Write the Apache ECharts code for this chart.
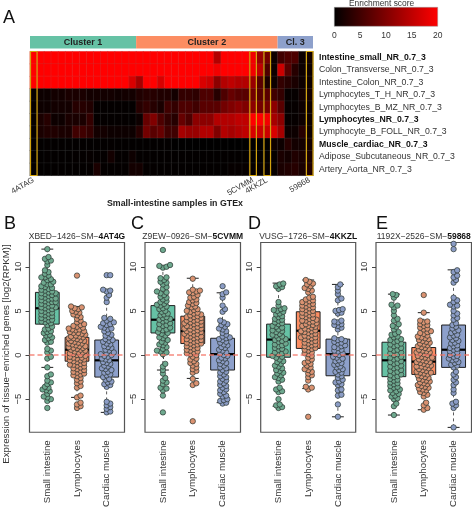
<!DOCTYPE html>
<html><head><meta charset="utf-8">
<style>html,body{margin:0;padding:0;background:#fff}#c{width:472px;height:510px}</style>
<script src="https://cdn.jsdelivr.net/npm/echarts@6/dist/echarts.min.js"></script>
</head><body><div id="c"></div>
<script>
const FONT='"Liberation Sans",Arial,sans-serif';
const rowNames=['Intestine_small_NR_0.7_3','Colon_Transverse_NR_0.7_3','Intestine_Colon_NR_0.7_3','Lymphocytes_T_H_NR_0.7_3','Lymphocytes_B_MZ_NR_0.7_3','Lymphocytes_NR_0.7_3','Lymphocyte_B_FOLL_NR_0.7_3','Muscle_cardiac_NR_0.7_3','Adipose_Subcutaneous_NR_0.7_3','Artery_Aorta_NR_0.7_3'];
const boldRows=['Intestine_small_NR_0.7_3','Lymphocytes_NR_0.7_3','Muscle_cardiac_NR_0.7_3'];
const sampleLabels={0:'4ATAG',31:'5CVMM',33:'4KKZL',39:'59868'};
const highlighted=[0,31,33,39];
const clusters=[['Cluster 1',0,15],['Cluster 2',15,35],['Cl. 3',35,40]];
const clusterColors=['#66c2a5','#fc8d62','#8da0cb'];
const r0=[20,20,20,20,20,20,20,20,20,20,20,20,20,20,20,20,20,20,20,20,20,20,20,20,20,20,14,20,20,20,20,19,12,9,1,5,6,6,1,1.5];
const r1=[20,20,20,20,20,20,20,20,20,20,20,20,20,20,20,20,20,20,20,20,20,20,20,20,20,20,19,20,20,20,20,19,15,6,1,16,7,3,1,1];
const r2=[20,20,20,20,20,20,20,20,20,20,20,20,20,20,17,13,20,20,17,20,20,20,20,20,17,16,11,14,15,14,14,12,7,2,1,4,3,2,1,1];
const r3=[0.5,1,1,1.5,1.5,2,2,2,1.5,1.5,1.5,1.5,1.2,1.5,1.5,2.5,3,3,2.5,2.5,1.5,4,4,3.5,6,6,3,6,8,7,7,9,7,7,5,4,0.5,0.5,1.5,1.5];
const r4=[0.5,1,1,1.5,1.5,1.5,3,3,2.5,0.3,0.3,0.3,0.3,0.3,0.3,3,4,3,2,5,4,6,6,5,7,7,7,9,10,11,10,11,9,9,11,7,0.5,0.5,1,1];
const r5=[0.5,2,3,1,1,2,2,2,4,0.3,0.3,0.3,0.3,0.3,0.3,1,8,10,6,4,3,8,6,11,11,11,14,14,14,15,15,20,20,19,13,11,0.5,0.5,1,1];
const r6=[0.5,2,2.5,2.5,2,2,5,5,4,1.5,1.5,1,1,1,1,3,9,7,8,5,5,13,12,12,14,14,10,14,13,14,15,17,16,16,17,13,1,1,3,1];
const r7=[0.2,0.2,0.3,0.2,0.2,0.2,0.2,0.2,0.2,0.2,0.2,0.3,0.2,0.2,0.2,0.2,0.2,0.2,0.2,0.2,0.1,0.1,0.1,0.1,0.1,0.1,0.1,0.1,0,0,0,0,0,0,1,1,3,1.5,1.5,1.5];
const r8=[0.2,0.2,0.3,0.2,0.2,0.2,0.3,0.3,0.5,0.3,0.3,1.5,0.3,0.3,1,0.3,0.3,0.2,0.2,0.2,0.2,0.2,0.2,0.2,0.2,0.2,0.2,0.2,0.2,0.2,0.2,0.2,0.2,0.2,0.5,2,1.5,2.5,2,2];
const r9=[0.2,0.2,0.2,0.2,0.2,0.2,0.2,0.2,0.3,2,0.3,0.3,0.3,0.3,1.5,1.5,0.3,0.3,0.2,0.2,0.2,0.2,0.2,0.2,0.2,0.2,0.2,0.2,0.5,0.5,0.5,0.5,0.5,0.5,0.5,2,2.5,3,2,2.5];
const heatRows=[r0,r1,r2,r3,r4,r5,r6,r7,r8,r9];
const heatColors=['#000000','#ff0000'];
const scoreRange=[0,20];

const tissues=['Small intestine','Lymphocytes','Cardiac muscle'];
const tissueFill=['#66c2a5','#fc8d62','#8da0cb'];
const pointFill=['#6ea98f','#da9271','#8b9cc5'];
const panelIds=[['XBED\u22121426\u2212SM\u2212','4AT4G'],['Z9EW\u22120926\u2212SM\u2212','5CVMM'],['VUSG\u22121726\u2212SM\u2212','4KKZL'],['1192X\u22122526\u2212SM\u2212','59868']];
const yTicks=[-5,0,5,10];

// low, q1, median, q3, high
const boxB=[[-1.4,3.5,5.3,7.1,12],[-4.8,-0.7,0.6,2,5.5],[-6.5,-2.5,-0.6,1.7,7.4]];
const boxC=[[-1.7,2.5,4,5.6,10.1],[-2.65,1.3,2.7,4.4,8.7],[-5.4,-1.7,0.1,1.9,7.05]];
const boxD=[[-5.8,-0.25,1.75,3.5,8.15],[-3.8,0.75,2.75,4.9,8.5],[-7,-2.35,0.1,1.8,8]];
const boxE=[[-6.8,-2.45,-0.6,1.45,6.9],[-6.2,-2.2,-0.75,0.85,4.8],[-8.2,-1.4,0.6,3.4,9.65]];

const greenB=[12,11.1,10.9,10.7,10.6,10.2,9.6,9.4,9.2,9,8.8,8.8,8.6,8.5,8.3,8.2,8,8,7.8,7.7,7.6,7.5,7.4,7.3,7.2,7.1,7,7,6.9,6.8,6.7,6.6,6.5,6.4,6.4,6.3,6.2,6.1,6,6,5.9,5.8,5.7,5.6,5.5,5.4,5.4,5.3,5.2,5.1,5,4.9,4.8,4.7,4.6,4.5,4.4,4.3,4.2,4.1,4,3.9,3.8,3.7,3.6,3.4,3.2,3,2.9,2.7,2.6,2.5,2.3,2.2,2,1.9,1.7,1.5,1.4,0.7,0.5,0.3,-0.2,-0.4,-1.4,-2.2,-2.4,-2.9,-3.1,-3.3,-3.6,-3.7,-3.9,-4,-4.1,-4.4,-4.7,-4.8,-5,-5.2,-6];
const orangeB=[9,5.5,5.4,5.3,5.2,5,4.9,4.8,4.6,4.5,4.3,4.1,3.9,3.7,3.5,3.4,3.3,3.2,3.1,3,2.9,2.9,2.8,2.7,2.6,2.5,2.5,2.4,2.3,2.2,2.1,2.1,2,1.9,1.9,1.8,1.7,1.6,1.6,1.5,1.4,1.3,1.3,1.2,1.1,1,1,0.9,0.8,0.8,0.7,0.6,0.6,0.5,0.4,0.3,0.3,0.2,0.1,0,0,-0.1,-0.2,-0.3,-0.3,-0.4,-0.5,-0.6,-0.6,-0.7,-0.8,-0.9,-1,-1.1,-1.1,-1.2,-1.3,-1.4,-1.5,-1.6,-1.7,-1.8,-1.9,-2,-2.1,-2.2,-2.3,-2.4,-2.6,-2.8,-3,-3.2,-3.5,-3.7,-4.6,-4.8,-5.4,-5.6,-5.8,-6];
const blueB=[9.05,9.05,7.4,7.3,7.2,6.8,6.5,6,4.2,4.1,3.9,3.7,3.6,3.5,3.4,3.2,3.1,3,2.9,2.7,2.5,2.3,2.2,2,1.8,1.7,1.6,1.5,1.3,1.2,1,0.9,0.8,0.6,0.5,0.3,0.2,0.1,0,-0.1,-0.2,-0.4,-0.5,-0.6,-0.8,-0.9,-1,-1.2,-1.3,-1.5,-1.6,-1.7,-1.9,-2,-2.2,-2.3,-2.5,-2.7,-2.8,-3,-3.1,-3.3,-3.4,-3.6,-5.3,-5.5,-5.7,-5.9,-6.1,-6.4,-6.5];

const greenC=[11.9,10.2,10.1,10,9.9,8.8,8.7,8.5,8.3,8.2,8,7.7,7.5,7.2,7.1,7,6.8,6.6,6.5,6.3,6.1,6,5.8,5.7,5.6,5.5,5.3,5.2,5,4.9,4.7,4.6,4.5,4.3,4.2,4.1,4,3.9,3.8,3.6,3.5,3.4,3.3,3.1,3,2.9,2.8,2.6,2.5,2.4,2.2,2,1.9,1.7,1.5,1.4,1.2,1.1,0.9,0.7,0.5,0.4,0.3,0.1,-1,-1.3,-1.7,-2.1,-2.6,-2.9,-3.1,-3.3,-3.7,-3.8,-4,-4.6,-6.5];
const orangeC=[8.65,7.4,7.3,7.2,7.1,7,6.8,6.6,6.5,6.3,6.2,6,5.9,5.8,5.6,5.5,5.4,5.2,5.1,5,4.9,4.8,4.7,4.6,4.5,4.4,4.3,4.3,4.2,4.1,4,3.9,3.9,3.8,3.7,3.6,3.6,3.5,3.4,3.3,3.3,3.2,3.1,3,3,2.9,2.8,2.7,2.7,2.6,2.5,2.4,2.4,2.3,2.2,2.1,2.1,2,1.9,1.8,1.7,1.7,1.6,1.5,1.4,1.3,1.3,1.2,1.1,1,0.9,0.8,0.7,0.6,0.5,0.4,0.3,0.2,0.1,0,-0.2,-0.4,-0.5,-0.7,-0.9,-1,-1.2,-1.4,-1.6,-1.8,-2,-2.7,-3.2,-3.4,-7.5];
const blueC=[7.8,7.1,6.9,6.5,5.6,5.2,4.9,3.9,3.7,3.5,3.4,3.2,3,2.9,2.7,2.5,2.3,2.1,2,1.9,1.8,1.7,1.5,1.4,1.2,1.1,0.9,0.8,0.6,0.5,0.3,0.2,0,-0.1,-0.3,-0.4,-0.6,-0.7,-0.9,-1,-1.2,-1.4,-1.5,-1.7,-1.9,-2,-2.2,-2.4,-2.5,-2.7,-2.9,-3,-3.2,-3.4,-3.5,-3.7,-3.9,-4,-4.2,-4.4,-4.6,-4.7,-5,-5.1,-5.2,-5.4,-5.5];

const greenD=[8.1,8,7.8,7.7,7.5,6,5.6,5.3,5.2,5.1,5,4.9,4.7,4.6,4.4,4.3,4.1,4,3.9,3.7,3.6,3.5,3.3,3.2,3.1,2.9,2.8,2.7,2.6,2.4,2.3,2.2,2.1,1.9,1.8,1.7,1.6,1.5,1.3,1.2,1.1,1,0.8,0.7,0.6,0.4,0.3,0.2,0.1,-0.1,-0.2,-0.3,-0.5,-0.7,-0.8,-1,-1.2,-1.3,-1.5,-1.7,-1.8,-2,-2.1,-2.3,-2.5,-2.6,-2.8,-3,-3.7,-3.9,-4.1,-4.2,-5,-5.6,-5.7,-5.9,-6];
const orangeD=[8.5,8.3,8.1,8,7.8,7.6,7.5,7.3,7.1,6.6,6.5,6.3,6.2,6.1,6,5.9,5.8,5.7,5.6,5.5,5.4,5.3,5.2,5.1,5,4.9,4.8,4.7,4.6,4.5,4.4,4.3,4.2,4.1,4,3.9,3.9,3.8,3.7,3.6,3.5,3.4,3.3,3.3,3.2,3.1,3,2.9,2.8,2.7,2.7,2.6,2.5,2.4,2.3,2.2,2.1,2,2,1.9,1.8,1.7,1.6,1.5,1.4,1.3,1.2,1.1,1,0.9,0.8,0.7,0.6,0.5,0.3,0.2,0.1,-0.1,-0.3,-0.5,-0.7,-0.9,-1,-1.2,-1.4,-1.6,-1.7,-1.9,-2.1,-2.3,-2.5,-2.9,-3.6,-3.7,-3.9,-7];
const blueD=[8,7.7,7.3,6.9,6.4,6.2,5.2,5.1,5,4.8,4.7,3.9,3.8,3.7,3.5,3.4,3.3,3.1,2.9,1.9,1.8,1.7,1.6,1.5,1.4,1.3,1.1,1,0.9,0.8,0.6,0.5,0.4,0.2,0.1,0,-0.2,-0.3,-0.4,-0.6,-0.7,-0.9,-1,-1.1,-1.3,-1.4,-1.6,-1.7,-1.9,-2,-2.2,-2.4,-2.6,-2.8,-3,-3.1,-3.3,-3.4,-3.9,-4,-4.5,-4.6,-5.6,-7];

const greenE=[6.9,6.8,6.5,5.7,5.6,5.4,5,4.5,4.1,3.9,3.5,3.3,3.2,2.9,2.6,2.4,2.3,2.1,2,1.8,1.7,1.6,1.5,1.3,1.2,1.1,1,0.8,0.7,0.6,0.5,0.3,0.2,0.1,0,-0.2,-0.3,-0.4,-0.5,-0.7,-0.8,-0.9,-1,-1.2,-1.3,-1.4,-1.5,-1.7,-1.8,-1.9,-2,-2.2,-2.3,-2.4,-2.5,-2.7,-2.8,-2.9,-3.1,-3.2,-3.3,-3.5,-3.6,-3.7,-3.9,-4,-4.1,-4.3,-4.4,-4.6,-4.7,-4.9,-5,-5.5,-5.8,-6.8];
const orangeE=[6.8,4.8,3.9,3.8,3.7,3.5,3.4,3.3,3.1,3,2.9,2.7,2.6,2.5,2.4,2.2,2.1,2,1.9,1.8,1.7,1.6,1.5,1.4,1.3,1.2,1.1,1,0.9,0.8,0.7,0.6,0.5,0.4,0.3,0.3,0.2,0.1,0,-0.1,-0.2,-0.3,-0.3,-0.4,-0.5,-0.6,-0.7,-0.8,-0.8,-0.9,-1,-1.1,-1.2,-1.3,-1.3,-1.4,-1.5,-1.6,-1.7,-1.8,-1.9,-2,-2,-2.1,-2.2,-2.3,-2.4,-2.5,-2.6,-2.7,-2.8,-2.9,-3,-3.1,-3.2,-3.3,-3.4,-3.5,-3.6,-3.7,-3.8,-3.9,-4,-4.2,-4.3,-4.5,-4.7,-5.4,-5.7,-6,-6.2];
const blueE=[12.6,12,9.6,9.4,9,8.8,8.5,8.2,6.5,6.2,6,5.7,5.6,5.5,5,4.7,4.5,4.2,4,3.6,3.4,3.2,3,2.8,2.7,2.5,2.3,2.2,2,1.9,1.7,1.6,1.4,1.3,1.1,1,0.8,0.7,0.6,0.4,0.3,0.2,0,-0.1,-0.2,-0.4,-0.5,-0.6,-0.8,-0.9,-1.1,-1.2,-1.4,-1.9,-2.2,-2.5,-2.8,-3.1,-3.4,-3.9,-4.3,-5.3,-5.5,-5.7,-6,-8.2];

const panelBoxes=[boxB,boxC,boxD,boxE];
const panelPoints=[[greenB,orangeB,blueB],[greenC,orangeC,blueC],[greenD,orangeD,blueD],[greenE,orangeE,blueE]];
const panelRects=[[29.5,95],[145,95.5],[260.7,95],[376,95.5]];

// deterministic swarm: each value takes the nearest free slot beside the category centre
function swarm(values,center){
  const steps=[0];
  for(let s=1;s<=7;s++){steps.push(s*0.04,-s*0.04);}
  const placed=[];
  values.slice().sort((a,b)=>a-b).forEach(v=>{
    let best=null,bestD=-1;
    for(const o of steps){
      let d=Infinity;
      for(const p of placed){
        if(Math.abs(p[1]-v)>1.5)continue;
        d=Math.min(d,Math.hypot((p[0]-o)*29.6,(p[1]-v)*9.1));
      }
      if(d>=3.3){best=o;bestD=d;break;}
      if(d>bestD){bestD=d;best=o;}
    }
    placed.push([best,v]);
  });
  return placed.map(p=>[center+p[0],p[1]]);
}

function boxRender(params,api){
  const x=api.value(0),c=api.coord;
  const low=c([x,api.value(1)]),q1=c([x,api.value(2)]),med=c([x,api.value(3)]),q3=c([x,api.value(4)]),high=c([x,api.value(5)]);
  const hw=c([x+0.4,0])[0]-low[0], cap=hw/2;
  const ink={stroke:'#1f1f1f',lineWidth:1,fill:null};
  const dash={stroke:'#333',lineWidth:0.8,lineDash:[3,3]};
  return {type:'group',children:[
    {type:'line',shape:{x1:low[0],y1:low[1],x2:q1[0],y2:q1[1]},style:dash},
    {type:'line',shape:{x1:high[0],y1:high[1],x2:q3[0],y2:q3[1]},style:dash},
    {type:'line',shape:{x1:low[0]-cap,y1:low[1],x2:low[0]+cap,y2:low[1]},style:ink},
    {type:'line',shape:{x1:high[0]-cap,y1:high[1],x2:high[0]+cap,y2:high[1]},style:ink},
    {type:'rect',shape:{x:q3[0]-hw,y:q3[1],width:2*hw,height:q1[1]-q3[1]},style:{fill:tissueFill[x-1],stroke:'#1f1f1f',lineWidth:1}},
    {type:'line',shape:{x1:med[0]-hw,y1:med[1],x2:med[0]+hw,y2:med[1]},style:{stroke:'#000',lineWidth:2.2}}
  ]};
}

const grid=[
 {left:30,top:51.5,width:283,height:124,show:false},
 {left:30,top:36,width:283,height:12.5,show:false},
 {left:334.3,top:7.3,width:103.4,height:19,show:false}
];
const xAxis=[
 {gridIndex:0,type:'category',data:heatRows[0].map((_,i)=>sampleLabels[i]||''),axisLine:{lineStyle:{color:'#bbb'}},axisTick:{show:false},
  axisLabel:{interval:0,rotate:30,fontSize:8,color:'#333',fontFamily:FONT,margin:4}},
 {gridIndex:1,type:'value',min:0,max:40,show:false},
 {gridIndex:2,type:'value',min:0,max:20,interval:5,position:'bottom',splitLine:{show:false},axisLine:{show:false},axisTick:{show:false},
  axisLabel:{fontSize:8.5,color:'#333',fontFamily:FONT,margin:5,hideOverlap:false}}
];
const yAxis=[
 {gridIndex:0,type:'category',inverse:true,position:'right',data:rowNames,axisLine:{show:false},axisTick:{show:false},
  axisLabel:{interval:0,margin:6,fontFamily:FONT,fontSize:8.7,
   formatter:v=>boldRows.includes(v)?'{b|'+v+'}':'{n|'+v+'}',
   rich:{b:{fontWeight:'bold',color:'#111',fontSize:8.7,fontFamily:FONT},n:{color:'#333',fontSize:8.7,fontFamily:FONT}}}},
 {gridIndex:1,type:'value',min:0,max:1,show:false},
 {gridIndex:2,type:'value',min:0,max:1,show:false}
];
const heatData=[];
heatRows.forEach((row,r)=>row.forEach((v,c)=>heatData.push([c,r,v])));
const series=[
 {type:'heatmap',xAxisIndex:0,yAxisIndex:0,data:heatData,progressive:0,animation:false,
  itemStyle:{borderColor:'rgba(130,130,130,0.22)',borderWidth:0.6},emphasis:{disabled:true}},
 {type:'custom',xAxisIndex:0,yAxisIndex:0,data:highlighted.map(c=>[c]),z:5,clip:false,silent:true,
  renderItem(p,api){
    const pt=api.coord([api.value(0),0]),bw=api.size([1,1]);
    const top=pt[1]-bw[1]/2;
    return {type:'rect',shape:{x:pt[0]-bw[0]/2+0.5,y:top,width:bw[0]-0.5,height:bw[1]*10},style:{fill:null,stroke:'#d3a40e',lineWidth:1.2}};
  }},
 {type:'custom',xAxisIndex:1,yAxisIndex:1,data:clusters.map((c,i)=>[c[1],c[2],i]),silent:true,
  renderItem(p,api){
    const a=api.coord([api.value(0),1]),b=api.coord([api.value(1),0]),i=api.value(2);
    return {type:'group',children:[
     {type:'rect',shape:{x:a[0],y:a[1],width:b[0]-a[0],height:b[1]-a[1]},style:{fill:clusterColors[i]}},
     {type:'text',style:{x:(a[0]+b[0])/2,y:(a[1]+b[1])/2,text:clusters[i][0],align:'center',verticalAlign:'middle',fontSize:9,fontWeight:'bold',fontFamily:FONT,fill:'#222'}}
    ]};
  }},
 {type:'custom',xAxisIndex:2,yAxisIndex:2,data:[scoreRange],silent:true,
  renderItem(p,api){
    const a=api.coord([api.value(0),1]),b=api.coord([api.value(1),0]);
    return {type:'rect',shape:{x:a[0],y:a[1],width:b[0]-a[0],height:b[1]-a[1]},
      style:{stroke:'#999',lineWidth:0.5,fill:new echarts.graphic.LinearGradient(0,0,1,0,[{offset:0,color:heatColors[0]},{offset:1,color:heatColors[1]}])}};
  }}
];
panelRects.forEach((r,i)=>{
  const g=grid.length;
  grid.push({left:r[0],top:242.5,width:r[1],height:195,show:true,backgroundColor:'#fff',borderColor:'#555',borderWidth:1.2});
  xAxis.push({gridIndex:g,type:'value',min:0.4,max:3.6,splitLine:{show:false},axisLine:{show:false},
    axisTick:{customValues:[1,2,3],length:4,lineStyle:{color:'#444'}},
    axisLabel:{customValues:[1,2,3],rotate:90,fontSize:9.7,color:'#333',fontFamily:FONT,margin:8,formatter:v=>tissues[v-1],hideOverlap:false}});
  yAxis.push({gridIndex:g,type:'value',min:-8.75,max:12.75,splitLine:{show:false},axisLine:{show:false},
    axisTick:{customValues:yTicks,length:4,lineStyle:{color:'#444'}},
    axisLabel:{customValues:yTicks,rotate:90,fontSize:9.4,color:'#333',fontFamily:FONT,margin:7,formatter:v=>String(v).replace('-','\u2212'),hideOverlap:false}});
  series.push({type:'custom',xAxisIndex:g,yAxisIndex:g,z:2,silent:true,
    encode:{x:0,y:[1,2,3,4,5]},
    data:panelBoxes[i].map((b,k)=>[k+1,...b]),renderItem:boxRender});
  panelPoints[i].forEach((vals,k)=>{
    series.push({type:'scatter',xAxisIndex:g,yAxisIndex:g,z:3,symbolSize:5.4,silent:true,
      data:swarm(vals,k+1),itemStyle:{color:pointFill[k],borderColor:'#2a332f',borderWidth:0.7,opacity:1}});
  });
  series.push({type:'scatter',xAxisIndex:g,yAxisIndex:g,z:4,data:[],silent:true,
    markLine:{silent:true,symbol:'none',label:{show:false},animation:false,z:6,
      lineStyle:{color:'#f4776a',opacity:0.85,type:[5,3],width:1.5},data:[{yAxis:0}]}});
});

const panelLetters=[['B',4],['C',131],['D',248],['E',376]];
const graphic=[
 {type:'text',left:3,top:9,style:{text:'A',fontSize:18,fontFamily:FONT,fill:'#111'}},
 {type:'text',left:349,top:0,style:{text:'Enrichment score',fontSize:8.4,fontFamily:FONT,fill:'#333'}},
 {type:'text',left:107,top:199,style:{text:'Small-intestine samples in GTEx',fontSize:8.8,fontWeight:'bold',fontFamily:FONT,fill:'#222'}},
 {type:'text',x:6,y:354,rotation:Math.PI/2,style:{text:'Expression of tissue\u2212enriched genes [log2(RPKM)]',fontSize:9.7,fontFamily:FONT,fill:'#333',align:'center',verticalAlign:'middle'}},
 ...panelLetters.map(l=>({type:'text',left:l[1],top:215,style:{text:l[0],fontSize:18,fontFamily:FONT,fill:'#111'}})),
 ...panelRects.map((r,i)=>({type:'text',x:r[0]+r[1]/2,y:236.5,style:{align:'center',verticalAlign:'middle',fontFamily:FONT,
    text:'{a|'+panelIds[i][0]+'}{b|'+panelIds[i][1]+'}',rich:{a:{fontSize:8.5,fill:'#333',fontFamily:FONT},b:{fontSize:8.5,fontWeight:'bold',fill:'#111',fontFamily:FONT}}}}))
];
const chart=echarts.init(document.getElementById('c'),null,{renderer:'canvas'});
chart.setOption({animation:false,backgroundColor:'#fff',textStyle:{fontFamily:FONT},grid,xAxis,yAxis,series,graphic,
 visualMap:{type:'continuous',min:scoreRange[0],max:scoreRange[1],seriesIndex:0,show:false,inRange:{color:heatColors}}
});
</script></body></html>
